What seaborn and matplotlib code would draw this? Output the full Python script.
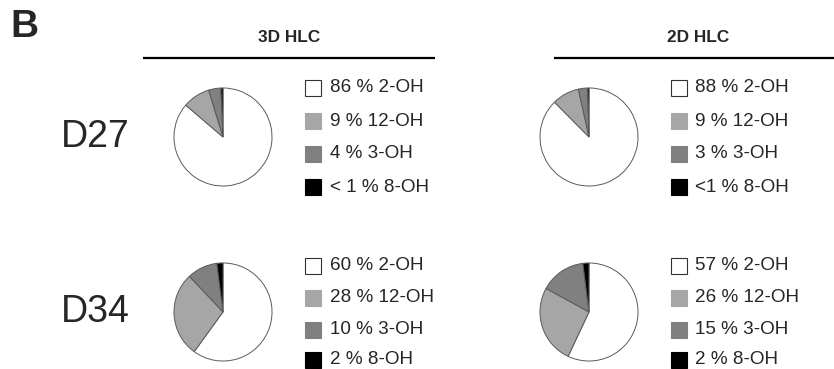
import matplotlib
matplotlib.use("Agg")
import matplotlib.pyplot as plt
import seaborn as sns

sns.set_theme(style="white")
plt.rcParams["font.family"] = ["Liberation Sans", "DejaVu Sans"]

# ---- data ----
conditions = ["3D HLC", "2D HLC"]
samples = ["D27", "D34"]
metabolites = ["2-OH", "12-OH", "3-OH", "8-OH"]
colors = ["#ffffff", "#a6a6a6", "#808080", "#000000"]

values_3d_d27 = [86, 9, 4, 0.7]
values_3d_d34 = [60, 28, 10, 2]
values_2d_d27 = [88, 9, 3, 0.5]
values_2d_d34 = [57, 26, 15, 2]

pct_3d_d27 = ["86 %", "9 %", "4 %", "< 1 %"]
pct_3d_d34 = ["60 %", "28 %", "10 %", "2 %"]
pct_2d_d27 = ["88 %", "9 %", "3 %", "<1 %"]
pct_2d_d34 = ["57 %", "26 %", "15 %", "2 %"]

panels = {
    ("3D HLC", "D27"): (values_3d_d27, pct_3d_d27),
    ("3D HLC", "D34"): (values_3d_d34, pct_3d_d34),
    ("2D HLC", "D27"): (values_2d_d27, pct_2d_d27),
    ("2D HLC", "D34"): (values_2d_d34, pct_2d_d34),
}

# ---- layout (pixels) ----
W, H = 834, 369
fig = plt.figure(figsize=(W / 100, H / 100), dpi=100)
ov = fig.add_axes([0, 0, 1, 1])
ov.set_xlim(0, W)
ov.set_ylim(H, 0)
ov.axis("off")

pie_cx = {"3D HLC": 223, "2D HLC": 589}
pie_cy = {"D27": 137, "D34": 312}
radius = 50
leg_sq_x = {"3D HLC": 313, "2D HLC": 679}
leg_tx_x = {"3D HLC": 330, "2D HLC": 695}
leg_rows = {"D27": [88, 121, 154, 187], "D34": [266, 298, 330, 360]}

# panel letter
ov.text(10, 27, "B", fontsize=28, fontweight="bold", ha="left", va="center")

# headers
hdr = {"3D HLC": (143, 435, 289), "2D HLC": (554, 834, 698)}
for c in conditions:
    x0, x1, xc = hdr[c]
    ov.text(xc, 37, c, fontsize=12.4, fontweight="bold", ha="center", va="center")
    ov.plot([x0, x1], [58, 58], color="black", lw=1.6, solid_capstyle="butt")

# row labels
for s in samples:
    ov.text(61, pie_cy[s], s, fontsize=27, ha="left", va="center")

for (c, s), (vals, pcts) in panels.items():
    cx, cy = pie_cx[c], pie_cy[s]
    ax = fig.add_axes([(cx - radius) / W, 1 - (cy + radius) / H,
                       2 * radius / W, 2 * radius / H])
    ax.pie(vals, colors=colors, startangle=90, counterclock=False,
           radius=1.0,
           wedgeprops=dict(edgecolor="#5a5a5a", linewidth=0.7))
    ax.set_xlim(-1.02, 1.02)
    ax.set_ylim(-1.02, 1.02)
    ax.set_aspect("equal")
    ax.axis("off")
    for i, (m, p) in enumerate(zip(metabolites, pcts)):
        y = leg_rows[s][i]
        ov.plot(leg_sq_x[c], y, marker="s", markersize=11,
                markerfacecolor=colors[i],
                markeredgecolor="#333333" if i == 0 else colors[i],
                markeredgewidth=0.8)
        ov.text(leg_tx_x[c], y, f"{p} {m}", fontsize=13.6, ha="left",
                va="center")

fig.savefig("out.png", dpi=100, facecolor="white")
